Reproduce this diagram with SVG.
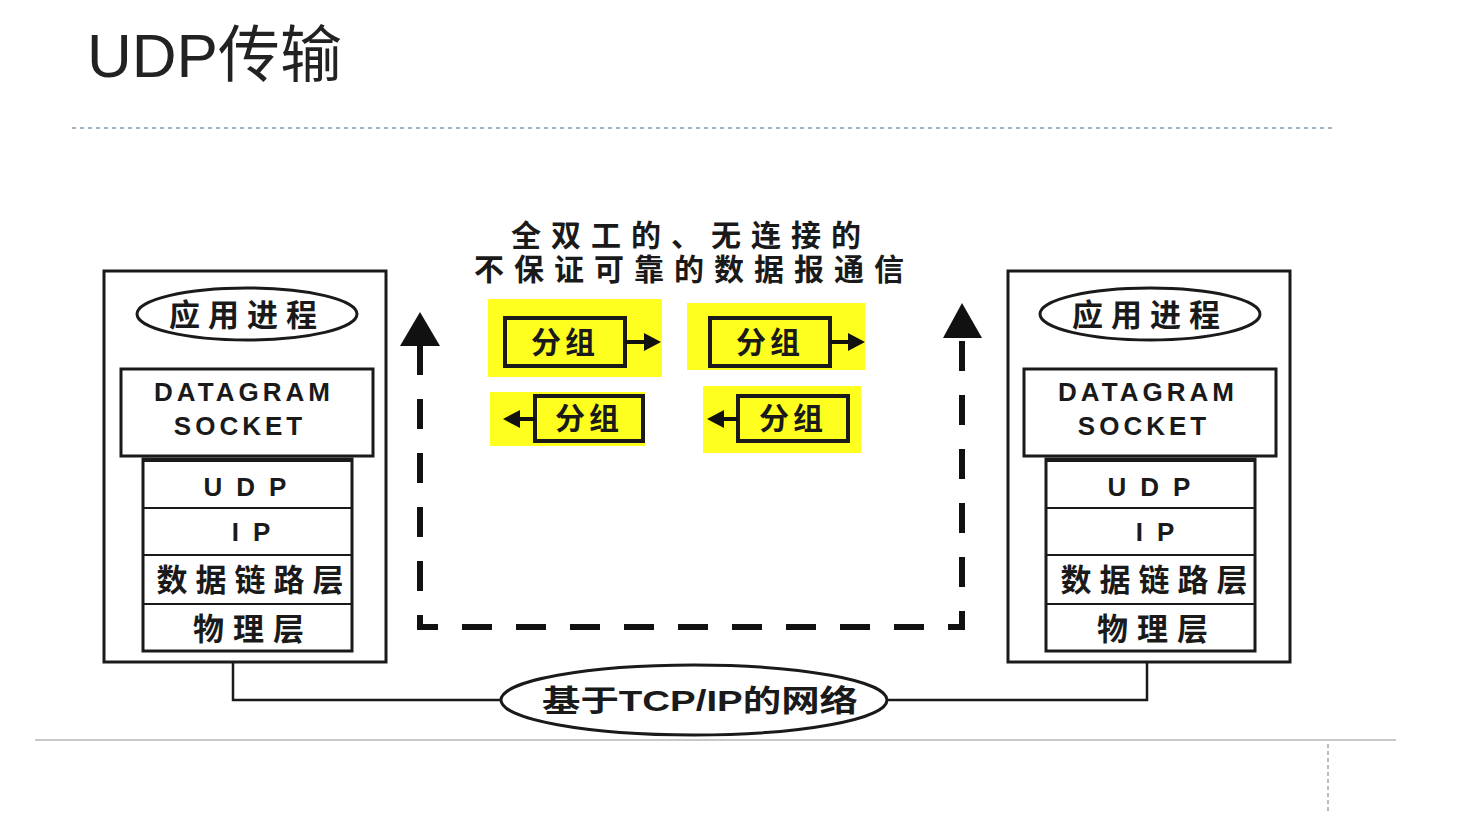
<svg xmlns="http://www.w3.org/2000/svg" width="1460" height="813" viewBox="0 0 1460 813">
<style>
.cjk{font-family:"Liberation Sans","Noto Sans CJK SC",sans-serif;fill:#1a1a1a;font-weight:bold}
.box{fill:#fff;stroke:#1a1a1a;stroke-width:3}
.thin{fill:none;stroke:#1a1a1a;stroke-width:2.5}
.lat{font-family:"Liberation Sans",sans-serif;font-weight:bold;fill:#1a1a1a}
.y{fill:#ffff1f}
.pk{fill:none;stroke:#1a1a1a;stroke-width:4}
.dash{fill:none;stroke:#111;stroke-width:6}
</style>
<rect width="1460" height="813" fill="#fff"/>
<g id="title">
<text x="87" y="77" font-family="Liberation Sans,'Noto Sans CJK SC',sans-serif" font-size="62" fill="#222">UDP传输</text>
<line x1="72" y1="128" x2="1334" y2="128" stroke="#9fb4c4" stroke-width="2" stroke-dasharray="4,4"/>
<line x1="35" y1="740" x2="1396" y2="740" stroke="#c8c8c8" stroke-width="2"/>
<line x1="1328" y1="744" x2="1328" y2="813" stroke="#bbb" stroke-width="2" stroke-dasharray="4,3"/>
</g>
<g id="connectors">
<polyline class="thin" points="233,651 233,700 500,700"/>
<polyline class="thin" points="887,700 1147,700 1147,651"/>
<line x1="244" y1="340" x2="244" y2="369" stroke="#1a1a1a" stroke-width="5"/>
<line x1="1147" y1="340" x2="1147" y2="369" stroke="#1a1a1a" stroke-width="5"/>
<path class="dash" d="M420,345 L420,627 L962,627 L962,338" stroke-dasharray="30,24"/>
<path d="M400,346 L420,312 L440,346 Z" fill="#111"/>
<path d="M943,338 L962,303 L982,338 Z" fill="#111"/>
</g>
<g id="left-host">
<rect class="box" x="104" y="271" width="282" height="391"/>
<ellipse class="box" cx="247" cy="314" rx="110" ry="26"/>
<text class="cjk" x="247" y="326" font-size="31" text-anchor="middle" letter-spacing="8">应用进程</text>
<rect class="box" x="121" y="369" width="252" height="87"/>
<text class="lat" x="244" y="401" font-size="26" text-anchor="middle" letter-spacing="4">DATAGRAM</text>
<text class="lat" x="240" y="435" font-size="26" text-anchor="middle" letter-spacing="4">SOCKET</text>
<rect class="box" x="143" y="459" width="209" height="192"/>
<line x1="143" y1="460" x2="352" y2="460" stroke="#1a1a1a" stroke-width="4"/>
<line x1="143" y1="508" x2="352" y2="508" stroke="#1a1a1a" stroke-width="2"/>
<line x1="143" y1="555" x2="352" y2="555" stroke="#1a1a1a" stroke-width="2"/>
<line x1="143" y1="604" x2="352" y2="604" stroke="#1a1a1a" stroke-width="2"/>
<text class="lat" x="252" y="496" font-size="26" text-anchor="middle" letter-spacing="14">UDP</text>
<text class="lat" x="258" y="541" font-size="26" text-anchor="middle" letter-spacing="14">IP</text>
<text class="cjk" x="254" y="591" font-size="31" text-anchor="middle" letter-spacing="8">数据链路层</text>
<text class="cjk" x="253" y="640" font-size="31" text-anchor="middle" letter-spacing="9">物理层</text>
</g>
<g id="right-host">
<rect class="box" x="1008" y="271" width="282" height="391"/>
<ellipse class="box" cx="1150" cy="314" rx="110" ry="26"/>
<text class="cjk" x="1150" y="326" font-size="31" text-anchor="middle" letter-spacing="8">应用进程</text>
<rect class="box" x="1024" y="369" width="252" height="87"/>
<text class="lat" x="1148" y="401" font-size="26" text-anchor="middle" letter-spacing="4">DATAGRAM</text>
<text class="lat" x="1144" y="435" font-size="26" text-anchor="middle" letter-spacing="4">SOCKET</text>
<rect class="box" x="1046" y="459" width="209" height="192"/>
<line x1="1046" y1="460" x2="1255" y2="460" stroke="#1a1a1a" stroke-width="4"/>
<line x1="1046" y1="508" x2="1255" y2="508" stroke="#1a1a1a" stroke-width="2"/>
<line x1="1046" y1="555" x2="1255" y2="555" stroke="#1a1a1a" stroke-width="2"/>
<line x1="1046" y1="604" x2="1255" y2="604" stroke="#1a1a1a" stroke-width="2"/>
<text class="lat" x="1156" y="496" font-size="26" text-anchor="middle" letter-spacing="14">UDP</text>
<text class="lat" x="1162" y="541" font-size="26" text-anchor="middle" letter-spacing="14">IP</text>
<text class="cjk" x="1158" y="591" font-size="31" text-anchor="middle" letter-spacing="8">数据链路层</text>
<text class="cjk" x="1157" y="640" font-size="31" text-anchor="middle" letter-spacing="9">物理层</text>
</g>
<g id="network">
<ellipse class="box" cx="694" cy="700" rx="193" ry="35"/>
<text class="cjk" x="700" y="711" font-size="30" text-anchor="middle" textLength="316" lengthAdjust="spacingAndGlyphs">基于TCP/IP的网络</text>
</g>
<g id="caption">
<text class="cjk" x="691" y="246" font-size="30" text-anchor="middle" letter-spacing="10">全双工的、无连接的</text>
<text class="cjk" x="694" y="280" font-size="30" text-anchor="middle" letter-spacing="10">不保证可靠的数据报通信</text>
</g>
<g id="packet1">
<rect class="y" x="488" y="299" width="174" height="78"/>
<rect class="pk" x="505" y="318" width="120" height="48"/>
<text class="cjk" x="565" y="353" font-size="30" text-anchor="middle" letter-spacing="4">分组</text>
<line x1="625" y1="342" x2="646" y2="342" stroke="#111" stroke-width="4"/>
<path d="M644,333 L661,342 L644,351 Z" fill="#111"/>
</g>
<g id="packet2">
<rect class="y" x="687" y="303" width="178" height="67"/>
<rect class="pk" x="710" y="318" width="120" height="48"/>
<text class="cjk" x="770" y="353" font-size="30" text-anchor="middle" letter-spacing="4">分组</text>
<line x1="830" y1="342" x2="850" y2="342" stroke="#111" stroke-width="4"/>
<path d="M848,333 L865,342 L848,351 Z" fill="#111"/>
</g>
<g id="packet3">
<rect class="y" x="490" y="392" width="155" height="54"/>
<rect class="pk" x="535" y="396" width="108" height="45"/>
<text class="cjk" x="589" y="429" font-size="30" text-anchor="middle" letter-spacing="4">分组</text>
<line x1="535" y1="419" x2="517" y2="419" stroke="#111" stroke-width="4"/>
<path d="M520,410 L503,419 L520,428 Z" fill="#111"/>
</g>
<g id="packet4">
<rect class="y" x="703" y="386" width="158" height="67"/>
<rect class="pk" x="738" y="396" width="110" height="45"/>
<text class="cjk" x="793" y="429" font-size="30" text-anchor="middle" letter-spacing="4">分组</text>
<line x1="738" y1="419" x2="721" y2="419" stroke="#111" stroke-width="4"/>
<path d="M724,410 L707,419 L724,428 Z" fill="#111"/>
</g>
</svg>
